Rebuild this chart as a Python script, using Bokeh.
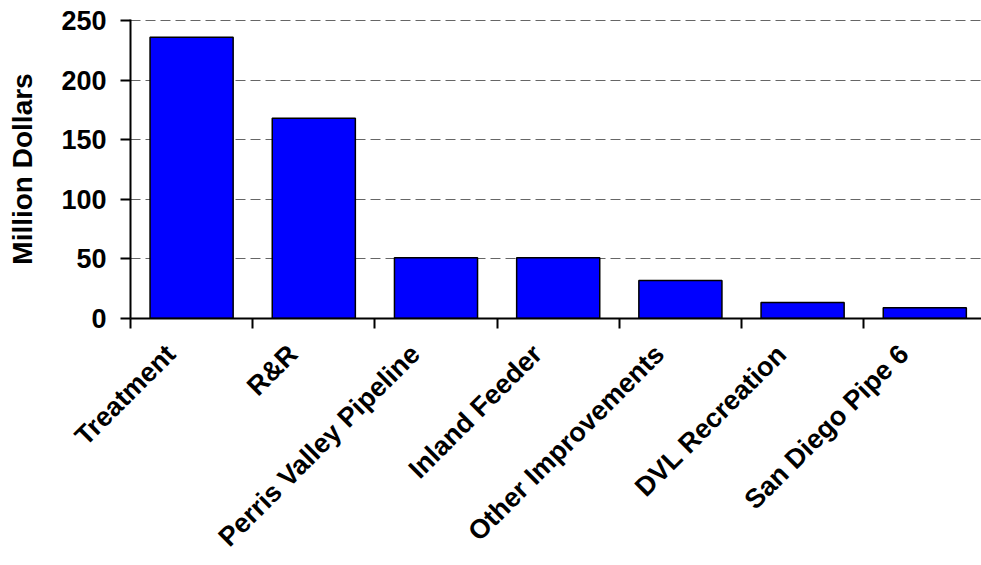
import math
from bokeh.plotting import figure
from bokeh.models import Range1d, FixedTicker, CustomJSTickFormatter, ColumnDataSource
from bokeh.embed import file_html
from bokeh.resources import INLINE

categories = ["Treatment", "R&R", "Perris Valley Pipeline", "Inland Feeder",
              "Other Improvements", "DVL Recreation", "San Diego Pipe 6"]
values = [236, 168, 51, 51, 32, 13.5, 9]
y_ticks = [0, 50, 100, 150, 200, 250]
y_label = "Million Dollars"

FONT = "Liberation Sans"

idx = list(range(len(categories)))
src = ColumnDataSource(dict(x=idx, top=values, name=categories))

p = figure(width=981, height=565, output_backend="svg", toolbar_location=None,
           x_range=Range1d(-0.5, len(categories) - 0.536), y_range=Range1d(0, 251),
           min_border_left=130, min_border_right=0, min_border_top=19, min_border_bottom=246)
p.outline_line_color = None
p.background_fill_color = "white"
p.border_fill_color = "white"

p.vbar(x="x", top="top", width=0.68, bottom=0, source=src,
       fill_color="#0000FF", line_color="black", line_width=1.5)

# x axis: labels slightly left of bar centres, marks at category boundaries
xa = p.xaxis[0]
xa.ticker = FixedTicker(ticks=[i - 0.17 for i in idx],
                        minor_ticks=[i - 0.5 for i in range(len(categories) + 1)])
xa.formatter = CustomJSTickFormatter(args=dict(labels=categories),
                                     code="const i = Math.round(tick); return (i >= 0 && i < labels.length) ? labels[i] : '';")
xa.major_tick_line_color = None
xa.major_tick_out = 0
xa.major_tick_in = 0
xa.minor_tick_line_color = "black"
xa.minor_tick_line_width = 2
xa.minor_tick_out = 10
xa.minor_tick_in = 0
xa.axis_line_color = "black"
xa.axis_line_width = 2
xa.major_label_orientation = math.pi / 4
xa.major_label_text_font = FONT
xa.major_label_text_font_style = "bold"
xa.major_label_text_font_size = "27px"
xa.major_label_text_color = "black"
xa.major_label_standoff = 21

# y axis
ya = p.yaxis[0]
ya.ticker = FixedTicker(ticks=y_ticks)
ya.axis_label = y_label
ya.axis_label_text_font = FONT
ya.axis_label_text_font_style = "bold"
ya.axis_label_text_font_size = "28px"
ya.axis_label_text_color = "black"
ya.axis_label_standoff = 20
ya.axis_line_color = "black"
ya.axis_line_width = 2
ya.major_tick_line_color = "black"
ya.major_tick_line_width = 2
ya.major_tick_out = 10
ya.major_tick_in = 0
ya.minor_tick_line_color = None
ya.major_label_text_font = FONT
ya.major_label_text_font_style = "bold"
ya.major_label_text_font_size = "27px"
ya.major_label_text_color = "black"
ya.major_label_standoff = 14

p.xgrid.grid_line_color = None
p.ygrid.ticker = FixedTicker(ticks=y_ticks)
p.ygrid.grid_line_color = "#666666"
p.ygrid.grid_line_dash = "10 5"
p.ygrid.grid_line_width = 1

open("out.html", "w").write(file_html(p, INLINE))
